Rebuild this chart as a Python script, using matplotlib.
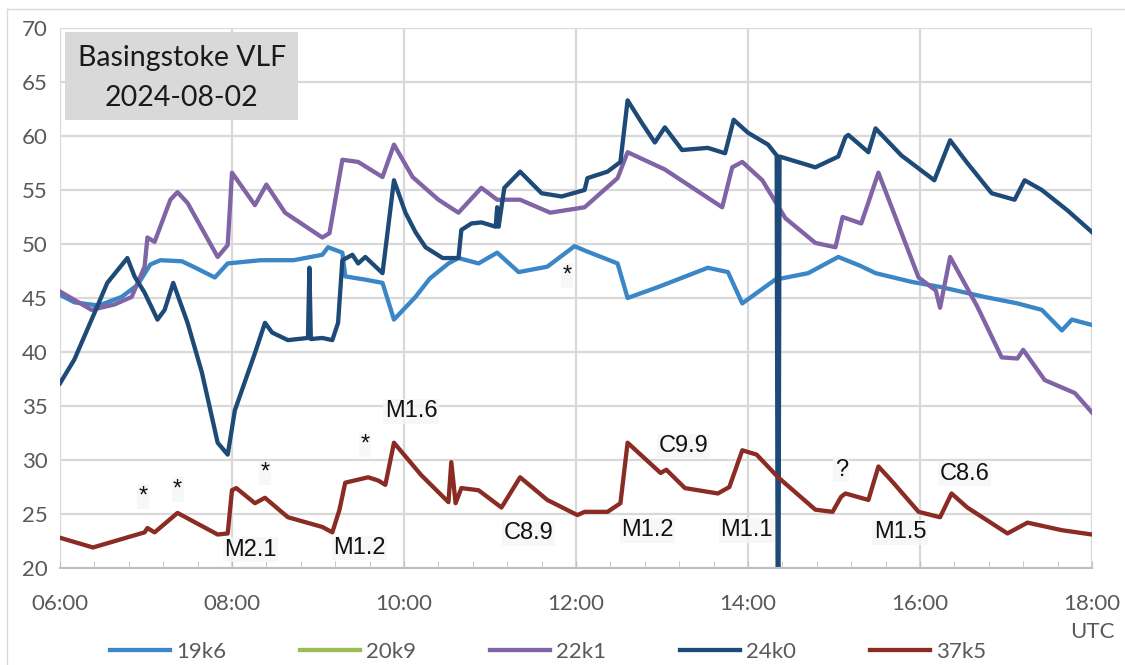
import matplotlib.pyplot as plt
from matplotlib.lines import Line2D
from matplotlib.patches import Rectangle

# Basingstoke VLF receiver, signal level per transmitter, 2024-08-02 (UTC)
t_19k6 = ["06:00", "06:10", "06:27", "06:43", "06:54", "07:03", "07:10", "07:25", "07:33", "07:48",
          "07:57", "08:20", "08:43", "09:03", "09:07", "09:17", "09:19", "09:33", "09:45", "09:53",
          "10:08", "10:18", "10:31", "10:38", "10:52", "11:05", "11:20", "11:40", "11:59", "12:06",
          "12:29", "12:36", "12:57", "13:32", "13:46", "13:56", "14:19", "14:42", "15:03", "15:18",
          "15:29", "15:54", "16:15", "16:45", "17:08", "17:25", "17:39", "17:46", "18:00"]
v_19k6 = [45.3, 44.6, 44.3, 45.1, 46.2, 48.1, 48.5, 48.4, 47.9, 46.9,
          48.2, 48.5, 48.5, 49.0, 49.7, 49.2, 47.0, 46.7, 46.4, 43.0,
          45.1, 46.8, 48.2, 48.7, 48.2, 49.2, 47.4, 47.9, 49.8, 49.4,
          48.2, 45.0, 46.0, 47.8, 47.4, 44.5, 46.7, 47.3, 48.8, 48.0,
          47.3, 46.5, 46.0, 45.1, 44.5, 43.9, 42.0, 43.0, 42.5]

# no data for 20k9 on this day
t_20k9 = []
v_20k9 = []

t_22k1 = ["06:00", "06:22", "06:38", "06:50", "06:59", "07:01", "07:06", "07:17", "07:22", "07:29",
          "07:50", "07:57", "08:00", "08:16", "08:24", "08:37", "09:03", "09:08", "09:17", "09:28",
          "09:45", "09:53", "10:06", "10:24", "10:38", "10:54", "11:05", "11:21", "11:42", "12:06",
          "12:29", "12:36", "13:02", "13:42", "13:49", "13:56", "14:10", "14:26", "14:47", "15:01",
          "15:06", "15:19", "15:31", "15:59", "16:11", "16:14", "16:21", "16:40", "16:57", "17:08",
          "17:12", "17:27", "17:48", "18:00"]
v_22k1 = [45.6, 43.9, 44.4, 45.1, 47.9, 50.6, 50.2, 54.1, 54.8, 53.8,
          48.8, 49.9, 56.6, 53.6, 55.5, 52.9, 50.6, 51.0, 57.8, 57.6,
          56.2, 59.2, 56.2, 54.1, 52.9, 55.2, 54.1, 54.1, 52.9, 53.4,
          56.1, 58.5, 56.9, 53.4, 57.1, 57.6, 55.9, 52.4, 50.1, 49.7,
          52.5, 51.9, 56.6, 46.9, 45.7, 44.1, 48.8, 44.2, 39.5, 39.4,
          40.2, 37.4, 36.2, 34.4]

t_24k0 = ["06:00", "06:10", "06:24", "06:33", "06:47", "06:52", "06:59", "07:08", "07:13", "07:19",
          "07:29", "07:39", "07:50", "07:57", "08:02", "08:16", "08:23", "08:28", "08:39", "08:53",
          "08:54", "08:55", "09:03", "09:10", "09:14", "09:17", "09:24", "09:28", "09:33", "09:45",
          "09:53", "10:01", "10:08", "10:15", "10:27", "10:38", "10:40", "10:47", "10:54", "11:04",
          "11:05", "11:06", "11:10", "11:21", "11:36", "11:50", "12:06", "12:08", "12:22", "12:31",
          "12:36", "12:46", "12:55", "13:02", "13:14", "13:32", "13:44", "13:50", "14:00", "14:14",
          "14:20", "14:21", "14:22", "14:47", "15:03", "15:08", "15:10", "15:24", "15:29", "15:47",
          "16:10", "16:21", "16:33", "16:50", "17:06", "17:13", "17:25", "17:43", "18:00"]
v_24k0 = [37.1, 39.3, 43.6, 46.4, 48.7, 47.0, 45.5, 43.0, 43.9, 46.4,
          42.7, 38.1, 31.6, 30.5, 34.6, 39.9, 42.7, 41.8, 41.1, 41.3,
          47.8, 41.2, 41.3, 41.1, 42.7, 48.5, 49.0, 48.2, 48.8, 47.3,
          55.9, 52.9, 51.1, 49.7, 48.7, 48.7, 51.3, 51.9, 52.0, 51.6,
          53.4, 51.6, 55.2, 56.7, 54.7, 54.4, 55.0, 56.1, 56.7, 57.6,
          63.3, 61.2, 59.4, 60.8, 58.7, 58.9, 58.4, 61.5, 60.3, 59.2,
          58.2, 0.0, 58.1, 57.1, 58.1, 59.9, 60.1, 58.5, 60.7, 58.2,
          55.9, 59.6, 57.5, 54.7, 54.1, 55.9, 55.0, 53.1, 51.1]

t_37k5 = ["06:00", "06:23", "06:59", "07:01", "07:06", "07:22", "07:50", "07:57", "08:00", "08:03",
          "08:16", "08:23", "08:39", "09:03", "09:10", "09:15", "09:19", "09:35", "09:42", "09:47",
          "09:53", "10:12", "10:31", "10:33", "10:36", "10:40", "10:52", "11:08", "11:21", "11:40",
          "12:01", "12:06", "12:22", "12:31", "12:36", "12:59", "13:03", "13:16", "13:39", "13:47",
          "13:56", "14:06", "14:21", "14:47", "14:59", "15:05", "15:08", "15:24", "15:31", "15:40",
          "15:59", "16:14", "16:22", "16:33", "17:01", "17:15", "17:39", "18:00"]
v_37k5 = [22.8, 21.9, 23.3, 23.7, 23.3, 25.1, 23.1, 23.2, 27.2, 27.4,
          26.0, 26.5, 24.7, 23.8, 23.3, 25.4, 27.9, 28.4, 28.1, 27.7,
          31.6, 28.6, 26.1, 29.8, 26.0, 27.4, 27.2, 25.6, 28.4, 26.3,
          24.9, 25.2, 25.2, 26.0, 31.6, 28.8, 29.1, 27.4, 26.9, 27.5,
          30.9, 30.5, 28.4, 25.4, 25.2, 26.6, 26.9, 26.3, 29.4, 28.1,
          25.2, 24.7, 26.9, 25.6, 23.2, 24.2, 23.5, 23.1]

# flare classes and other markers: (text, time, level)
events = [("*", "06:58", 26.6), ("*", "07:22", 27.3), ("*", "08:23", 28.8),
          ("*", "09:33", 31.4), ("*", "11:54", 47.1), ("?", "15:05", 29.1),
          ("M2.1", "08:13", 21.7), ("M1.2", "09:29", 21.85), ("M1.6", "10:05", 34.5),
          ("C8.9", "11:27", 23.2), ("M1.2", "12:50", 23.5), ("C9.9", "13:15", 31.3),
          ("M1.1", "13:59", 23.5), ("M1.5", "15:46", 23.3), ("C8.6", "16:31", 28.7)]

tick_hours = [6, 8, 10, 12, 14, 16, 18]
tick_labels = ["06:00", "08:00", "10:00", "12:00", "14:00", "16:00", "18:00"]


def hours(times):
    return [int(s[:2]) + int(s[3:]) / 60 for s in times]


series = [
    ("19k6", t_19k6, v_19k6, "#3a86c6"),
    ("20k9", t_20k9, v_20k9, "#9bbb59"),
    ("22k1", t_22k1, v_22k1, "#8064a6"),
    ("24k0", t_24k0, v_24k0, "#1e4a78"),
    ("37k5", t_37k5, v_37k5, "#8a2c24"),
]

grey = "#595959"
plt.rcParams["font.family"] = ["Lato", "DejaVu Sans"]

fig = plt.figure(figsize=(11.25, 6.65), dpi=100)
ax = fig.add_axes([60 / 1125, 1 - 568 / 665, 1032 / 1125, 540 / 665])

handles = []
for name, t, v, color in series:
    line, = ax.plot(hours(t), v, color=color, lw=3.1, label=name, solid_joinstyle="round")
    handles.append(line)

ax.set_xlim(6, 18)
ax.set_ylim(20, 70)
ax.set_yticks(range(20, 71, 5))
ax.set_xticks(tick_hours)
ax.set_xticklabels(tick_labels)
ax.set_xticks([6 + 0.4 * i for i in range(31)], minor=True)
ax.grid(True, which="major", color="#d9d9d9", lw=1.6)
ax.set_axisbelow(True)
for side in ["top", "right", "left"]:
    ax.spines[side].set_visible(False)
ax.spines["bottom"].set_color("#bfbfbf")
ax.spines["bottom"].set_linewidth(1.5)
ax.tick_params(axis="x", which="both", direction="in", length=5, color="#bfbfbf",
               labelsize=16, labelcolor=grey, pad=19)
ax.tick_params(axis="y", length=0, labelsize=16, labelcolor=grey, pad=9)

# title box in the top-left corner
ax.add_patch(Rectangle((0.005, 0.83), 0.226, 0.163, transform=ax.transAxes,
                       facecolor="#d9d9d9", edgecolor="none", zorder=4))
ax.text(0.118, 0.944, "Basingstoke VLF", transform=ax.transAxes, ha="center", va="center",
        fontsize=20.5, color="#1a1a1a", zorder=5)
ax.text(0.118, 0.870, "2024-08-02", transform=ax.transAxes, ha="center", va="center",
        fontsize=20.5, color="#1a1a1a", zorder=5)

for text, t, y in events:
    ax.text(hours([t])[0], y, text, ha="center", va="center", fontsize=17,
            family="Liberation Sans", color="#111111", zorder=6,
            bbox=dict(facecolor="#f6f6f6", edgecolor="none", pad=1.0, alpha=0.8))

fig.text(1092 / 1125, 1 - 632 / 665, "UTC", ha="center", va="center", fontsize=16, color=grey)

fig.legend(handles, [h.get_label() for h in handles], loc="center",
           bbox_to_anchor=(548 / 1125, 1 - 652 / 665), ncol=5, frameon=False,
           handlelength=2.7, handletextpad=0.3, columnspacing=3.3, fontsize=16,
           labelcolor=grey)

# chart area border
fig.add_artist(Line2D([7 / 1125, 1], [1 - 9 / 665] * 2, transform=fig.transFigure,
                      color="#d9d9d9", lw=1))
fig.add_artist(Line2D([7 / 1125] * 2, [0, 1 - 9 / 665], transform=fig.transFigure,
                      color="#d9d9d9", lw=1))

fig.savefig("out.png", dpi=100)
